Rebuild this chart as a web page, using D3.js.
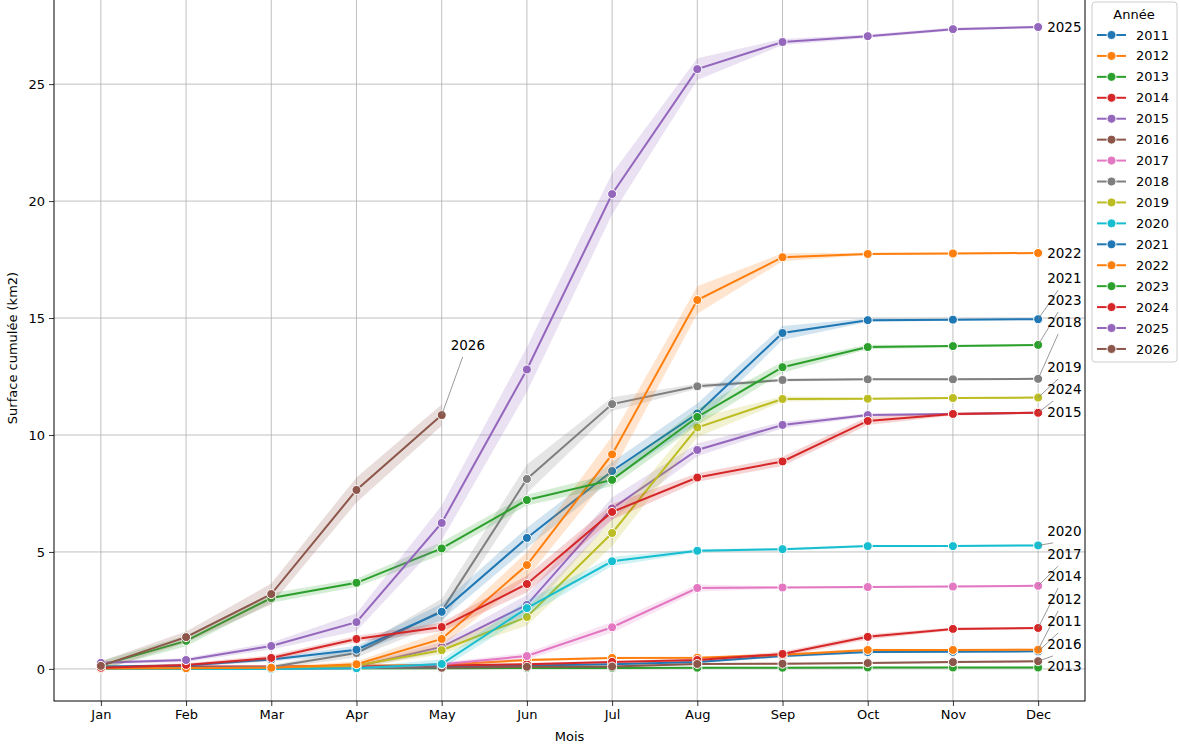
<!DOCTYPE html>
<html>
<head>
<meta charset="utf-8">
<script src="https://cdn.jsdelivr.net/npm/d3@7"></script>
<style>
  body { margin: 0; background: #fff; }
  svg { font-family: "DejaVu Sans", sans-serif; }
</style>
</head>
<body>
<div id="graph"></div>
<script>
// mois et années
var months = ['Jan','Feb','Mar','Apr','May','Jun','Jul','Aug','Sep','Oct','Nov','Dec'];
var years = [2011,2012,2013,2014,2015,2016,2017,2018,2019,2020,2021,2022,2023,2024,2025,2026];
var yTicks = [0, 5, 10, 15, 20, 25];

// surface cumulée (km2) par mois
var v2011 = [0.02,0.03,0.05,0.05,0.1,0.15,0.2,0.3,0.55,0.72,0.73,0.75];
var v2012 = [0.02,0.04,0.08,0.13,0.18,0.38,0.47,0.48,0.6,0.81,0.81,0.82];
var v2013 = [0.02,0.02,0.02,0.03,0.03,0.04,0.04,0.05,0.05,0.06,0.06,0.06];
var v2014 = [0.05,0.1,0.1,0.1,0.15,0.2,0.3,0.38,0.64,1.37,1.71,1.75];
var v2015 = [0.05,0.05,0.05,0.1,0.94,2.74,6.86,9.36,10.43,10.85,10.9,10.95];
var v2016 = [0.05,0.05,0.05,0.05,0.05,0.09,0.1,0.21,0.22,0.25,0.29,0.33];
var v2017 = [0,0,0,0.03,0.2,0.55,1.78,3.46,3.48,3.5,3.52,3.55];
var v2018 = [0.05,0.05,0.08,0.68,2.48,8.12,11.32,12.08,12.35,12.38,12.38,12.4];
var v2019 = [0,0.02,0.03,0.15,0.8,2.22,5.81,10.32,11.54,11.55,11.58,11.6];
var v2020 = [0,0,0,0.03,0.21,2.6,4.6,5.05,5.12,5.25,5.25,5.28];
var v2021 = [0.1,0.15,0.4,0.82,2.44,5.6,8.46,10.92,14.36,14.91,14.93,14.95];
var v2022 = [0.02,0.03,0.05,0.2,1.28,4.44,9.17,15.77,17.6,17.74,17.76,17.78];
var v2023 = [0.15,1.2,3.03,3.68,5.15,7.22,8.08,10.77,12.9,13.76,13.8,13.85];
var v2024 = [0.05,0.17,0.47,1.28,1.79,3.63,6.71,8.18,8.87,10.6,10.9,10.95];
var v2025 = [0.26,0.38,0.98,2.0,6.24,12.8,20.3,25.64,26.8,27.05,27.35,27.44];
var v2026 = [0.13,1.36,3.2,7.65,10.85];

var allValues = [v2011,v2012,v2013,v2014,v2015,v2016,v2017,v2018,v2019,v2020,v2021,v2022,v2023,v2024,v2025,v2026];

// étiquettes en bout de courbe : année, mois, hauteur de l'étiquette (km2)
var labelYears  = [2025, 2022, 2021, 2023, 2018, 2019, 2024, 2015, 2020, 2017, 2014, 2012, 2011, 2016, 2013, 2026];
var labelMonths = ['Dec','Dec','Dec','Dec','Dec','Dec','Dec','Dec','Dec','Dec','Dec','Dec','Dec','Dec','Dec','May'];
var labelValues = [27.44, 17.78, 16.71, 15.77, 14.83, 12.91, 11.97, 10.98, 5.9, 4.91, 3.97, 2.99, 2.05, 1.07, 0.13, 13.85];

var tab10 = ['#1f77b4','#ff7f0e','#2ca02c','#d62728','#9467bd','#8c564b','#e377c2','#7f7f7f','#bcbd22','#17becf'];

var W = 1179, H = 754;
var margin = {top: -5, left: 54};
var width = 1031, height = 706;

var svg = d3.select('#graph').append('svg')
    .attr('width', W)
    .attr('height', H);

var g = svg.append('g')
    .attr('transform', 'translate(' + margin.left + ',' + margin.top + ')');

var x = d3.scalePoint().domain(months).range([0, width]).padding(0.55);
var y = d3.scaleLinear().domain([-1.372, 28.81]).range([height, 0]);

// grille
g.append('g').selectAll('line')
    .data(months).enter().append('line')
    .attr('x1', function(d){ return x(d); })
    .attr('x2', function(d){ return x(d); })
    .attr('y1', 0).attr('y2', height)
    .style('stroke', '#b0b0b0').style('stroke-width', 0.8);
g.append('g').selectAll('line')
    .data(yTicks).enter().append('line')
    .attr('x1', 0).attr('x2', width)
    .attr('y1', function(d){ return y(d); })
    .attr('y2', function(d){ return y(d); })
    .style('stroke', '#b0b0b0').style('stroke-width', 0.8);

var series = years.map(function(yr, i){
    return {year: yr, color: tab10[i % 10], values: allValues[i]};
});

// bande d'incertitude : plus large quand la pente est forte
function halfWidth(vals, i) {
    var dp = i > 0 ? Math.abs(vals[i] - vals[i-1]) : 0;
    var dn = i < vals.length - 1 ? Math.abs(vals[i+1] - vals[i]) : dp;
    if (i === 0) dp = dn;
    return 0.13 * (dp + dn) / 2 + 0.04;
}

var area = d3.area()
    .x(function(d){ return x(months[d.i]); })
    .y0(function(d){ return y(d.v - d.h); })
    .y1(function(d){ return y(d.v + d.h); });

var line = d3.line()
    .x(function(d, i){ return x(months[i]); })
    .y(function(d){ return y(d); });

var plot = g.append('g');
series.forEach(function(s){
    var pts = s.values.map(function(v, i){ return {i: i, v: v, h: halfWidth(s.values, i)}; });
    plot.append('path')
        .attr('d', area(pts))
        .style('fill', s.color)
        .style('opacity', 0.2)
        .style('stroke', 'none');
    plot.append('path')
        .attr('d', line(s.values))
        .style('fill', 'none')
        .style('stroke', s.color)
        .style('stroke-width', 2);
    plot.append('g').selectAll('circle')
        .data(s.values).enter().append('circle')
        .attr('cx', function(d, i){ return x(months[i]); })
        .attr('cy', function(d){ return y(d); })
        .attr('r', 4.5)
        .style('fill', s.color)
        .style('stroke', 'white')
        .style('stroke-width', 1);
});

// étiquettes
var labels = g.append('g');
labelYears.forEach(function(yr, k){
    var vals = allValues[years.indexOf(yr)];
    var m = labelMonths[k];
    var px = x(m), py = y(vals[months.indexOf(m)]);
    var tx = px + 9, ty = y(labelValues[k]);
    var dy = ty - py;
    if (Math.abs(dy) > 14) {
        // trait de rappel vers le bord du texte
        var ey = dy < 0 ? ty + 12 : ty - 10;
        var ex = tx + (Math.abs(dy) > 25 ? 11 : 6);
        if (yr === 2026) { ey = ty + 12; ex = tx + 12; }
        labels.append('line')
            .attr('x1', px).attr('y1', py)
            .attr('x2', ex).attr('y2', ey)
            .style('stroke', '#808080').style('stroke-width', 0.8);
    }
    labels.append('text')
        .attr('x', tx)
        .attr('y', ty)
        .attr('dy', '0.35em')
        .style('font-size', '13.5px')
        .style('fill', 'black')
        .text(yr);
});

// axes
var xAxis = d3.axisBottom(x).tickSize(5).tickPadding(4);
var xg = g.append('g').attr('transform', 'translate(0,' + height + ')').call(xAxis);
var yAxis = d3.axisLeft(y).tickValues(yTicks).tickSize(5).tickPadding(4);
var yg = g.append('g').call(yAxis);
[xg, yg].forEach(function(a){
    a.select('.domain').remove();
    a.selectAll('line').style('stroke', 'black').style('stroke-width', 0.8);
    a.selectAll('text').style('font-size', '13px').style('fill', 'black')
        .style('font-family', '"DejaVu Sans", sans-serif');
});

// cadre
g.append('rect')
    .attr('x', 0).attr('y', 0)
    .attr('width', width).attr('height', height)
    .style('fill', 'none')
    .style('stroke', 'black')
    .style('stroke-width', 1);

// titres des axes
svg.append('text')
    .attr('x', margin.left + width / 2)
    .attr('y', 741)
    .attr('text-anchor', 'middle')
    .style('font-size', '13px')
    .text('Mois');
svg.append('text')
    .attr('transform', 'translate(17,' + 348 + ') rotate(-90)')
    .attr('text-anchor', 'middle')
    .style('font-size', '13px')
    .text('Surface cumulée (km2)');

// légende
var lg = svg.append('g').attr('transform', 'translate(1092,2)');
lg.append('rect')
    .attr('x', 0).attr('y', 0)
    .attr('width', 85).attr('height', 360)
    .attr('rx', 3)
    .style('fill', 'white').style('fill-opacity', 0.8)
    .style('stroke', '#cccccc').style('stroke-width', 1);
lg.append('text')
    .attr('x', 42).attr('y', 12)
    .attr('dy', '0.35em')
    .attr('text-anchor', 'middle')
    .style('font-size', '13px')
    .text('Année');
var item = lg.selectAll('.item')
    .data(series).enter().append('g')
    .attr('class', 'item')
    .attr('transform', function(d, i){ return 'translate(0,' + (33 + i * 20.93) + ')'; });
item.append('line')
    .attr('x1', 5).attr('x2', 34)
    .style('stroke', function(d){ return d.color; })
    .style('stroke-width', 2);
item.append('circle')
    .attr('cx', 19.5).attr('r', 4.5)
    .style('fill', function(d){ return d.color; })
    .style('stroke', 'white').style('stroke-width', 1);
item.append('text')
    .attr('x', 44).attr('dy', '0.35em')
    .style('font-size', '13px')
    .text(function(d){ return d.year; });
</script>
</body>
</html>
